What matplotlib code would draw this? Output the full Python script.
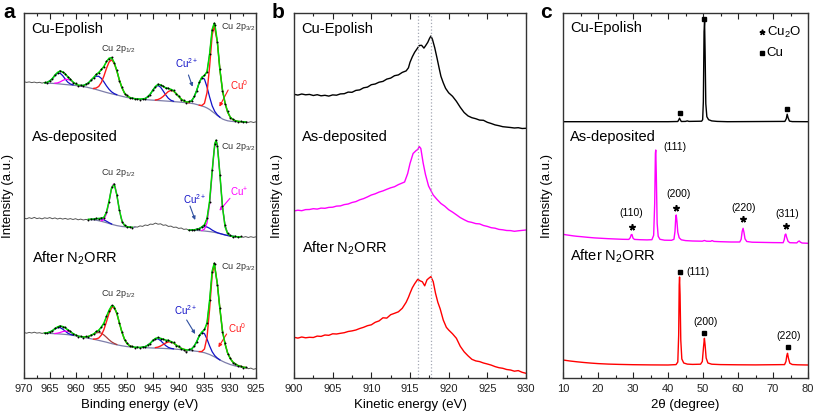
import numpy as np
import matplotlib
matplotlib.use('Agg')
import matplotlib.pyplot as plt
from matplotlib.ticker import MultipleLocator

plt.rcParams['font.family'] = ['Liberation Sans', 'DejaVu Sans']
plt.rcParams['mathtext.fontset'] = 'custom'
plt.rcParams['mathtext.rm'] = 'Liberation Sans'
plt.rcParams['mathtext.it'] = 'Liberation Sans:italic'
plt.rcParams['mathtext.bf'] = 'Liberation Sans:bold'

# ---------------- panel a : Cu 2p XPS (binding energy eV, intensity a.u.) ----------------
# Cu-Epolish
a1_raw = [(970, 40.3), (969.5, 39.6), (969, 40.1), (968.5, 39.4), (968, 39.9), (967.5, 39.2), (967, 39.7),
          (966.5, 38.9), (966, 39.6), (965.5, 39.3), (965, 41.5), (964.5, 43.0), (964, 47.3), (963.5, 49.0),
          (963, 51.5), (962.5, 49.6), (962, 48.5), (961.5, 44.7), (961, 43.1), (960.5, 39.5), (960, 38.6),
          (959.5, 36.3), (959, 37.0), (958.5, 36.0), (958, 38.1), (957.5, 38.7), (957, 42.3), (956.5, 44.0),
          (956, 47.9), (955.5, 49.0), (955, 52.8), (954.5, 55.1), (954, 60.9), (953.5, 63.2), (953, 64.8),
          (952.5, 59.0), (952, 52.0), (951.5, 41.4), (951, 34.8), (950.5, 28.4), (950, 26.6), (949.5, 24.0),
          (949, 24.3), (948.5, 23.0), (948, 23.5), (947.5, 22.4), (947, 23.4), (946.5, 23.0), (946, 25.6),
          (945.5, 27.4), (945, 32.4), (944.5, 35.0), (944, 38.1), (943.5, 36.6), (943, 36.1), (942.5, 33.6),
          (942, 34.0), (941.5, 32.1), (941, 31.8), (940.5, 27.9), (940, 26.2), (939.5, 22.3), (939, 21.6),
          (938.5, 19.4), (938, 20.6), (937.5, 20.6), (937, 25.6), (936.5, 31.0), (936, 40.1), (935.5, 44.3),
          (935, 47.0), (934.5, 49.8), (934, 68.5), (933.5, 92.0), (933.1, 98.6), (933, 97.5), (932.5, 80.0),
          (932, 53.3), (931.5, 31.5), (931, 18.2), (930.5, 10.6), (930, 4.5), (929.5, 2.9), (929, 0.9),
          (928.5, 0.5), (928, 0.6), (927.5, -0.2), (927, 0.5), (926.5, -0.4), (926, 0.3), (925.5, -0.5), (925, 0.2)]
a1_bg = [(966, 39.0), (964, 38.5), (962, 37.5), (960, 36.5), (958, 35.0), (957, 33.8), (956, 32.5), (955, 31.0),
         (954, 29.5), (953, 28.2), (952, 27.0), (951, 25.7), (950, 24.5), (948, 23.0), (946, 22.2), (944, 21.5),
         (942, 20.8), (940, 20.0), (938, 19.0), (937, 18.2), (936, 16.8), (935, 15.2), (934.5, 14.0), (934, 12.5),
         (933.5, 10.5), (933, 8.6), (932.5, 6.5), (932, 4.7), (931.5, 3.0), (931, 2.0), (930.5, 1.2), (930, 0.8),
         (929, 0.3), (928, 0.2), (927, 0.0)]
a1_env = [(966, 39.2), (965.5, 39.7), (965, 41.0), (964.5, 43.4), (964, 46.8), (963.5, 49.6), (963, 50.9),
          (962.5, 50.1), (962, 48.0), (961.5, 45.3), (961, 42.6), (960.5, 40.1), (960, 38.0), (959.5, 36.9),
          (959, 36.5), (958.5, 36.6), (958, 37.5), (957.5, 39.2), (957, 41.7), (956.5, 44.6), (956, 47.3),
          (955.5, 49.6), (955, 52.1), (954.5, 55.7), (954, 60.2), (953.5, 63.8), (953, 64.1), (952.5, 59.5),
          (952, 51.4), (951.5, 42.0), (951, 34.2), (950.5, 29.0), (950, 26.0), (949.5, 24.6), (949, 23.7),
          (948, 23.0), (947, 23.0), (946.5, 23.5), (946, 25.1), (945.5, 28.0), (945, 31.8), (944.5, 35.6),
          (944, 37.5), (943.5, 37.2), (943, 35.5), (942.5, 34.2), (942, 33.4), (941.5, 32.7), (941, 31.2),
          (940.5, 28.5), (940, 25.6), (939.5, 22.9), (939, 21.0), (938.5, 20.0), (938, 20.0), (937.5, 21.2),
          (937, 25.0), (936.5, 31.6), (936, 39.5), (935.5, 44.9), (935, 46.4), (934.5, 50.4), (934, 67.9),
          (933.5, 92.6), (933.1, 98.8), (933, 98.2), (932.5, 80.6), (932, 52.1), (931.5, 32.0), (931, 19.0),
          (930.5, 10.0), (930, 5.0), (929.5, 2.5), (929, 1.3), (928.5, 0.7), (928, 0.4), (927.5, 0.2), (927, 0.0)]
a1_blue = [
    [(965.5, 39.7), (965, 41.0), (964.5, 43.3), (964, 46.5), (963.5, 48.7), (963, 48.8), (962.5, 46.4),
     (962, 42.9), (961.5, 39.8), (961, 38.0), (960.5, 37.1)],
    [(959, 36.3), (958.5, 36.6), (958, 37.5), (957.5, 39.2), (957, 41.6), (956.5, 44.1), (956, 45.8),
     (955.5, 45.7), (955, 43.6), (954.5, 40.1), (954, 36.1), (953.5, 32.7), (953, 30.1), (952.5, 28.4), (952, 27.3)],
    [(947, 23.0), (946.5, 23.5), (946, 25.1), (945.5, 28.0), (945, 31.7), (944.5, 35.2), (944, 36.5),
     (943.5, 34.8), (943, 31.0), (942.5, 27.0), (942, 23.7), (941.5, 21.7), (941, 20.8)],
    [(938, 19.8), (937.5, 21.2), (937, 25.0), (936.5, 31.6), (936, 39.5), (935.5, 44.4), (935, 42.9),
     (934.5, 35.0), (934, 25.0), (933.5, 16.2), (933, 10.6), (932.5, 7.1), (932, 4.8)]]
a1_red = [
    [(956.5, 33.6), (956, 34.0), (955.5, 35.6), (955, 39.5), (954.5, 45.9), (954, 53.6), (953.5, 60.0),
     (953, 62.2), (952.5, 58.7), (952, 51.1), (951.5, 42.0), (951, 34.2), (950.5, 29.0), (950, 26.0), (949.5, 24.6)],
    [(944.5, 22.0), (944, 22.5), (943.5, 23.7), (943, 25.6), (942.5, 28.2), (942, 30.5), (941.5, 31.6),
     (941, 30.8), (940.5, 28.5), (940, 25.6), (939.5, 23.0), (939, 21.0), (938.5, 19.9), (938, 19.2)],
    [(936, 16.8), (935.5, 16.5), (935, 18.7), (934.5, 29.4), (934, 55.4), (933.5, 86.9), (933.1, 96.2),
     (932.5, 80.0), (932, 52.0), (931.5, 31.8), (931, 18.8), (930.5, 9.8), (930, 4.8), (929.5, 2.4),
     (929, 1.2), (928.5, 0.6), (928, 0.3)]]
a1_pink = [
    [(964, 38.8), (963.5, 39.1), (963, 40.1), (962.5, 41.5), (962, 42.6), (961.5, 42.7), (961, 41.6),
     (960.5, 39.8), (960, 38.0), (959.5, 36.7), (959, 36.0)]]

# As-deposited
a2_raw = [(970, 18.9), (969.5, 18.2), (969, 19.3), (968.5, 18.5), (968, 19.6), (967.5, 18.4), (967, 19.0),
          (966.5, 18.1), (966, 19.2), (965.5, 18.6), (965, 19.4), (964.5, 18.3), (964, 19.1), (963.5, 18.0),
          (963, 18.8), (962.5, 17.9), (962, 18.6), (961.5, 17.7), (961, 18.4), (960.5, 17.5), (960, 18.3),
          (959.5, 17.2), (959, 17.9), (958.5, 17.0), (958, 17.6), (957.5, 17.1), (957, 18.2), (956.5, 17.6),
          (956, 18.9), (955.5, 18.1), (955, 19.3), (954.5, 19.2), (954, 25.3), (953.5, 35.4), (953, 49.8),
          (952.5, 53.3), (952, 41.8), (951.5, 27.5), (951, 15.4), (950.5, 12.1), (950, 9.7), (949.5, 10.4),
          (949, 9.3), (948.5, 10.2), (948, 9.9), (947.5, 11.1), (947, 10.6), (946.5, 12.0), (946, 11.5),
          (945.5, 12.9), (945, 12.6), (944.5, 13.9), (944, 12.8), (943.5, 13.2), (943, 11.7), (942.5, 12.1),
          (942, 10.6), (941.5, 10.9), (941, 9.6), (940.5, 9.9), (940, 8.6), (939.5, 9.0), (939, 7.6),
          (938.5, 8.0), (938, 6.7), (937.5, 7.4), (937, 6.8), (936.5, 8.1), (936, 8.2), (935.5, 10.4),
          (935, 11.8), (934.5, 18.9), (934, 35.4), (933.5, 66.7), (933, 92.6), (932.75, 97.0), (932.5, 91.5),
          (932, 62.2), (931.5, 30.6), (931, 12.5), (930.5, 4.0), (930, 1.8), (929.5, -0.2), (929, 0.9),
          (928.5, -0.4), (928, 0.6), (927.5, -0.3), (927, 0.4), (926.5, -0.5), (926, 0.3), (925.5, -0.4), (925, 0.2)]
a2_bg = [(957.5, 17.6), (957, 17.4), (956, 16.8), (955, 15.7), (954, 14.3), (953, 12.7), (952, 11.4),
         (951, 10.5), (950, 10.0), (949, 9.7), (948.5, 9.6)]
a2_bg2 = [(938, 7.0), (937, 6.8), (936, 6.4), (935, 6.0), (934, 5.4), (933.5, 5.0), (933, 4.6), (932.5, 4.0),
          (932, 3.4), (931.5, 2.7), (931, 2.0), (930.5, 1.4), (930, 1.0), (929, 0.4), (928, 0.0)]
a2_env = [(957.5, 17.7), (957, 17.7), (956.5, 17.9), (956, 18.3), (955.5, 18.5), (955, 18.7), (954.5, 19.7),
          (954, 24.7), (953.5, 36.0), (953, 49.2), (952.5, 52.7), (952, 42.4), (951.5, 26.9), (951, 16.0),
          (950.5, 11.5), (950, 10.3), (949.5, 9.8), (949, 9.7)]
a2_env2 = [(938, 7.0), (937.5, 7.0), (937, 7.2), (936.5, 7.6), (936, 8.5), (935.5, 10.0), (935, 12.2),
           (934.5, 18.4), (934, 35.9), (933.5, 66.1), (933, 93.2), (932.75, 96.6), (932.5, 92.0), (932, 62.7),
           (931.5, 29.9), (931, 10.4), (930.5, 3.2), (930, 1.3), (929.5, 0.6), (929, 0.4), (928.5, 0.2), (928, 0.0)]
a2_blue = [
    [(957, 17.5), (956.5, 17.7), (956, 18.3), (955.5, 18.5), (955, 18.2), (954.5, 17.2), (954, 15.8),
     (953.5, 14.3), (953, 13.0)],
    [(937.5, 7.0), (937, 7.2), (936.5, 7.6), (936, 8.5), (935.5, 9.7), (935, 10.4), (934.5, 10.0),
     (934, 8.7), (933.5, 6.9), (933, 5.5), (932.5, 4.3), (932, 3.5), (931, 2.1), (930, 1.0), (929, 0.4)]]
a2_pink = [
    [(955, 16.2), (954.5, 17.5), (954, 23.2), (953.6, 32.5), (953.2, 44.0), (952.9, 50.6), (952.6, 53.1),
     (952.3, 49.9), (952, 42.4), (951.6, 29.8), (951.2, 19.6), (950.7, 12.8), (950.2, 10.6)],
    [(935.5, 6.5), (935, 7.8), (934.5, 14.1), (934, 32.6), (933.6, 57.3), (933.2, 83.2), (932.9, 94.5),
     (932.75, 96.1), (932.6, 94.2), (932.3, 82.2), (931.9, 55.3), (931.5, 29.9), (931, 10.4), (930.5, 3.2),
     (930, 1.3)]]

# After N2ORR
a3_raw = [(970, 36.5), (969.5, 35.8), (969, 36.6), (968.5, 36.0), (968, 36.8), (967.5, 35.9), (967, 36.3),
          (966.5, 35.6), (966, 36.2), (965.5, 35.8), (965, 37.4), (964.5, 38.0), (964, 40.9), (963.5, 41.6),
          (963, 43.4), (962.5, 42.0), (962, 41.8), (961.5, 38.6), (961, 37.9), (960.5, 35.0), (960, 34.4),
          (959.5, 32.5), (959, 32.9), (958.5, 31.5), (958, 32.6), (957.5, 32.1), (957, 34.2), (956.5, 34.6),
          (956, 37.6), (955.5, 38.4), (955, 42.3), (954.5, 45.4), (954, 52.9), (953.5, 58.2), (953, 63.7),
          (952.5, 61.5), (952, 56.3), (951.5, 45.6), (951, 37.2), (950.5, 29.1), (950, 25.9), (949.5, 22.7),
          (949, 22.8), (948.5, 21.3), (948, 22.1), (947.5, 21.1), (947, 22.3), (946.5, 21.9), (946, 24.3),
          (945.5, 25.2), (945, 29.1), (944.5, 30.0), (944, 31.8), (943.5, 30.1), (943, 30.3), (942.5, 28.3),
          (942, 29.0), (941.5, 26.9), (941, 26.7), (940.5, 23.4), (940, 22.8), (939.5, 20.1), (939, 19.2),
          (938.5, 17.0), (938, 19.6), (937.5, 19.5), (937, 23.3), (936.5, 26.8), (936, 33.7), (935.5, 36.5),
          (935, 39.7), (934.5, 45.6), (934, 69.0), (933.5, 97.4), (933.1, 106.0), (933, 104.8), (932.5, 84.5),
          (932, 60.6), (931.5, 37.4), (931, 25.6), (930.5, 15.4), (930, 11.1), (929.5, 6.4), (929, 5.5),
          (928.5, 2.9), (928, 3.1), (927.5, 1.3), (927, 1.9), (926.5, 0.3), (926, 0.9), (925.5, -0.3), (925, 0.4)]
a3_bg = [(966, 35.8), (965, 35.6), (964, 35.3), (963, 35.0), (962, 34.6), (961, 34.0), (960, 33.2), (959, 32.2),
         (958, 31.2), (957, 30.2), (956, 29.2), (955, 28.0), (954, 26.8), (953, 25.4), (952, 24.2), (951, 23.2),
         (950, 22.4), (949, 21.9), (948, 21.6), (947, 21.4), (946, 21.2), (945, 21.0), (944, 20.8), (943, 20.6),
         (942, 20.3), (941, 20.0), (940, 19.6), (939, 19.1), (938, 18.5), (937, 18.0), (936, 17.4), (935, 16.3),
         (934, 14.5), (933, 12.0), (932, 9.0), (931, 6.5), (930, 4.5), (929, 3.0), (928, 2.0), (927, 1.2)]
a3_env = [(966, 35.9), (965.5, 36.2), (965, 36.9), (964.5, 38.3), (964, 40.2), (963.5, 42.1), (963, 42.9),
          (962.5, 42.5), (962, 41.1), (961.5, 39.2), (961, 37.3), (960.5, 35.5), (960, 34.0), (959.5, 33.0),
          (959, 32.3), (958.5, 32.1), (958, 32.1), (957.5, 32.6), (957, 33.6), (956.5, 35.1), (956, 37.0),
          (955.5, 38.9), (955, 41.7), (954.5, 46.0), (954, 52.3), (953.5, 58.8), (953, 63.0), (952.7, 63.1),
          (952.5, 62.1), (952, 55.8), (951.5, 46.2), (951, 36.7), (950.5, 29.7), (950, 25.4), (949.5, 23.2),
          (949, 22.2), (948.5, 21.8), (948, 21.6), (947.5, 21.6), (947, 21.8), (946.5, 22.4), (946, 23.7),
          (945.5, 25.8), (945, 28.5), (944.5, 30.6), (944, 31.2), (943.5, 30.7), (943, 29.7), (942.5, 28.9),
          (942, 28.4), (941.5, 27.5), (941, 26.1), (940.5, 24.0), (940, 22.2), (939.5, 20.7), (939, 19.7),
          (938.5, 19.1), (938, 19.1), (937.5, 20.1), (937, 22.7), (936.5, 27.4), (936, 33.1), (935.5, 37.1),
          (935, 39.1), (934.5, 46.2), (934, 68.4), (933.5, 98.0), (933.1, 105.6), (932.5, 85.4), (932, 60.1),
          (931.5, 38.0), (931, 25.0), (930.5, 16.0), (930, 10.5), (929.5, 7.0), (929, 5.0), (928.5, 3.5),
          (928, 2.6), (927.5, 1.9), (927, 1.4)]
a3_blue = [
    [(965.5, 36.2), (965, 36.9), (964.5, 38.25), (964, 40.0), (963.5, 41.35), (963, 41.4), (962.5, 39.9),
     (962, 37.8), (961.5, 35.8), (961, 34.6), (960.5, 33.8)],
    [(947, 21.8), (946.5, 22.4), (946, 23.7), (945.5, 25.8), (945, 28.3), (944.5, 30.1), (944, 30.1),
     (943.5, 28.4), (943, 25.8), (942.5, 23.35), (942, 21.6), (941.5, 20.65), (941, 20.2)],
    [(938, 19.0), (937.5, 20.05), (937, 22.7), (936.5, 27.4), (936, 33.1), (935.5, 36.45), (935, 35.4),
     (934.5, 29.9), (934, 23.1), (933.5, 17.25), (933, 13.4), (932.5, 10.9), (932, 9.1)]]
a3_red = [
    [(956.5, 29.9), (956, 30.1), (955.5, 31.0), (955, 33.9), (954.5, 39.4), (954, 47.4), (953.5, 55.7),
     (953, 61.3), (952.7, 62.0), (952.5, 61.3), (952, 55.5), (951.5, 46.2), (951, 36.7), (950.5, 29.7),
     (950, 25.4), (949.5, 23.15), (949, 22.2)],
    [(944.5, 21.4), (944, 21.9), (943.5, 23.0), (943, 24.5), (942.5, 26.05), (942, 27.1), (941.5, 27.05),
     (941, 25.9), (940.5, 24.0), (940, 22.2), (939.5, 20.65), (939, 19.7), (938.5, 19.0)],
    [(936, 17.4), (935.5, 17.5), (935, 20.0), (934.5, 31.7), (934, 59.8), (933.5, 93.9), (933.1, 104.5),
     (932.5, 85.0), (932, 60.0), (931.5, 38.0), (931, 25.0), (930.5, 16.0), (930, 10.5), (929.5, 7.0),
     (929, 5.0), (928.5, 3.5), (928, 2.6), (927.5, 1.9), (927, 1.4)]]
a3_pink = [
    [(964, 35.5), (963.5, 35.85), (963, 36.5), (962.5, 37.4), (962, 37.9), (961.5, 37.7), (961, 36.7),
     (960.5, 35.3), (960, 34.0), (959.5, 33.0)]]
a3_brown = [
    [(958.5, 32.1), (958, 32.1), (957.5, 32.6), (957, 33.6), (956.5, 34.9), (956, 36.1), (955.5, 36.5),
     (955, 35.8), (954.5, 34.0), (954, 31.7), (953.5, 29.2), (953, 27.1), (952.5, 25.6), (952, 24.5)]]

a_offsets = [256, 141, 9]

# ---------------- panel b : Cu LMM Auger (kinetic energy eV) ----------------
b_epolish = [(900, 34.0), (900.5, 33.2), (901, 34.3), (901.5, 33.5), (902, 33.9), (902.5, 32.8), (903, 33.6),
             (903.5, 32.5), (904, 33.0), (904.5, 32.2), (905, 33.4), (905.5, 33.1), (906, 34.4), (906.5, 34.6),
             (907, 36.2), (907.5, 36.0), (908, 37.9), (908.5, 38.4), (909, 40.5), (909.5, 41.2), (910, 43.6),
             (910.5, 44.3), (911, 46.1), (911.5, 46.9), (912, 49.2), (912.5, 50.2), (913, 52.6), (913.5, 53.4),
             (914, 55.9), (914.5, 57.4), (914.8, 60.5), (915, 66.0), (915.3, 71.5), (915.6, 76.0), (916, 80.5),
             (916.2, 82.8), (916.5, 83.0), (916.8, 80.2), (917.0, 82.4), (917.3, 86.0), (917.5, 89.5),
             (917.7, 92.3), (917.9, 89.0), (918.2, 80.5), (918.5, 70.0), (918.8, 59.0), (919, 52.0),
             (919.3, 45.5), (919.6, 40.0), (920, 35.5), (920.5, 32.0), (921, 27.0), (921.5, 21.0), (922, 15.8),
             (922.5, 12.4), (923, 10.6), (923.5, 9.6), (924, 8.2), (924.5, 8.0), (925, 6.0), (925.5, 4.8),
             (926, 3.4), (926.5, 2.6), (927, 1.6), (927.5, 1.2), (928, 0.8), (928.5, 0.3), (929, 0.6),
             (929.5, -0.2), (930, 0.0)]
b_asdep = [(900, 20.0), (900.5, 20.8), (901, 20.3), (901.5, 21.4), (902, 21.5), (902.5, 22.3), (903, 21.9),
           (903.5, 22.9), (904, 22.7), (904.5, 23.6), (905, 23.8), (905.5, 24.9), (906, 25.1), (906.5, 26.4),
           (907, 27.0), (907.5, 28.5), (908, 29.4), (908.5, 31.2), (909, 32.4), (909.5, 34.1), (910, 36.0),
           (910.5, 37.2), (911, 38.9), (911.5, 40.1), (912, 41.7), (912.5, 43.2), (913, 44.3), (913.5, 46.4),
           (914, 48.0), (914.3, 49.0), (914.7, 57.5), (915, 67.5), (915.4, 77.5), (915.8, 80.5), (916.0, 81.5),
           (916.2, 84.5), (916.4, 82.5), (916.7, 68.0), (917.0, 56.5), (917.4, 45.0), (917.7, 40.5), (918, 36.0),
           (918.5, 31.5), (919, 27.5), (919.5, 24.8), (920, 21.3), (920.5, 18.9), (921, 16.2), (921.5, 13.4),
           (922, 11.3), (922.5, 9.4), (923, 8.6), (923.5, 7.4), (924, 7.1), (924.5, 5.5), (925, 4.6),
           (925.5, 3.3), (926, 2.8), (926.5, 1.6), (927, 1.2), (927.5, 0.5), (928, 0.4), (928.5, -0.3),
           (929, 0.2), (929.5, 0.6), (930, 1.0)]
b_after = [(900, 36.0), (900.5, 35.2), (901, 36.3), (901.5, 35.5), (902, 36.0), (902.5, 35.8), (903, 37.2),
           (903.5, 36.9), (904, 38.3), (904.5, 38.0), (905, 39.5), (905.5, 39.3), (906, 40.0), (906.5, 40.6),
           (907, 41.8), (907.5, 42.4), (908, 43.3), (908.5, 44.8), (909, 46.0), (909.5, 47.6), (910, 48.5),
           (910.5, 51.0), (911, 52.4), (911.5, 55.5), (912, 55.2), (912.5, 58.6), (913, 60.0), (913.5, 61.5),
           (914, 65.0), (914.5, 71.0), (914.8, 76.0), (915, 80.0), (915.3, 85.5), (915.6, 89.5), (916, 94.0),
           (916.3, 92.5), (916.6, 91.5), (916.9, 87.5), (917.2, 93.5), (917.5, 95.5), (917.7, 96.7),
           (918, 91.7), (918.3, 80.0), (918.6, 71.0), (918.9, 64.5), (919.3, 53.3), (919.7, 46.0), (920, 43.3),
           (920.5, 39.5), (921, 35.0), (921.5, 27.0), (922, 21.5), (922.5, 17.5), (923, 14.0), (923.5, 12.4),
           (924, 11.7), (924.5, 10.3), (925, 9.3), (925.5, 8.2), (926, 6.7), (926.5, 5.6), (927, 5.0),
           (927.5, 3.8), (928, 3.3), (928.5, 2.1), (929, 2.7), (929.5, 1.0), (930, 0.0)]
b_offsets = [249.7, 147, 4.7]
b_ref_lines = [916.0, 917.7]

# ---------------- panel c : XRD (2theta deg) ----------------
c_epolish = [(10, 0), (40, 0), (42.8, 0.2), (43.1, 2.0), (43.3, 3.5), (43.5, 2.0), (43.8, 0.2), (45, 0.3),
             (45.5, 0.8), (46, 0.3), (49.6, 0.5), (49.9, 2.0), (50.1, 20), (50.3, 90), (50.45, 100), (50.6, 70),
             (50.8, 18), (51.1, 5), (51.6, 2.0), (52.5, 0.8), (54, 0.3), (57, 0), (73.4, 0.3), (73.8, 3.0),
             (74.05, 7.5), (74.3, 4.0), (74.7, 0.6), (75.5, 0.1), (80, 0)]
c_asdep = [(10, 9.0), (11, 8.4), (12, 7.9), (13, 7.4), (14, 7.0), (15, 6.7), (17, 6.0), (19, 5.4), (21, 5.0),
           (23, 4.6), (25, 4.3), (27, 4.0), (28.8, 3.9), (29.2, 5.5), (29.5, 8.6), (29.7, 8.8), (30.0, 5.2),
           (30.4, 3.9), (32, 3.6), (34, 3.4), (35.4, 3.6), (35.9, 8), (36.2, 40), (36.4, 90), (36.5, 93.3),
           (36.65, 70), (36.9, 20), (37.2, 7), (37.7, 4), (39, 3.1), (41, 3.0), (41.7, 4), (42.0, 12),
           (42.2, 25), (42.35, 28.3), (42.55, 22), (42.8, 11), (43.2, 5.5), (43.8, 3.5), (45, 2.7), (47, 2.3),
           (49.8, 2.1), (50.4, 2.8), (51, 2.1), (52.2, 2.0), (52.6, 2.7), (53.1, 1.9), (55, 1.6), (58, 1.3),
           (60.5, 1.3), (60.9, 4), (61.2, 12), (61.45, 15), (61.7, 11), (62.0, 4.5), (62.5, 1.8), (64, 1.1),
           (67, 0.9), (70, 0.7), (72.9, 0.6), (73.2, 3.5), (73.45, 8.5), (73.65, 9.3), (73.9, 6), (74.3, 2),
           (74.8, 0.6), (76.8, 0.4), (77.2, 1.8), (77.5, 2.3), (77.8, 1.2), (78.3, 0.3), (80, 0)]
c_after = [(10, 5.0), (12, 4.0), (14, 3.2), (16, 2.5), (18, 1.9), (20, 1.4), (23, 0.9), (26, 0.6), (30, 0.3),
           (35, 0.1), (40, 0.0), (42.3, 0.4), (42.8, 3), (43.05, 30), (43.2, 80), (43.3, 88), (43.45, 70),
           (43.65, 25), (43.95, 6), (44.5, 2), (45.5, 0.9), (47, 0.6), (49.3, 0.8), (49.8, 3.5), (50.15, 18),
           (50.4, 26.7), (50.6, 20), (50.9, 7), (51.4, 2), (52.5, 0.8), (55, 0.4), (60, 0.2), (65, 0.1),
           (73.3, 0.4), (73.7, 3.5), (73.95, 9.5), (74.15, 11.7), (74.4, 7), (74.8, 1.8), (75.5, 0.5),
           (77, 0.2), (80, 0)]
c_offsets = [256.3, 134.7, 13]

# reflection markers: (2theta, height on plot)
cu_marks_top = [(43.3, 264.7), (50.4, 359), (74.1, 269)]
cu2o_marks_mid = [(29.6, 151.3), (42.3, 170.3), (61.4, 158.7), (73.6, 152)]
cu_marks_bot = [(43.3, 106.3), (50.4, 44.7), (74.2, 30.7)]
cu2o_labels = [('(110)', 29.6, 164.7), ('(111)', 42.1, 231.3), ('(200)', 42.9, 183.7),
               ('(220)', 61.5, 169.7), ('(311)', 74.1, 163.7)]
cu_labels = [('(111)', 45.3, 106.3), ('(200)', 50.8, 56.3), ('(220)', 74.4, 42.3)]

sample_names = ['Cu-Epolish', 'As-deposited', 'After N$_2$ORR']

BLUE = '#1212c8'
RED = '#ff1a1a'
PINK = '#ff00ff'
GREEN = '#00dd00'
BGCOL = '#7d7daa'
RAWCOL = '#555555'
BROWN = '#a83a3a'
STAR = (5, 2, 0)


def xy(pts, off=0.0):
    return [p[0] for p in pts], [p[1] + off for p in pts]


def style(ax, xlim, major, minor, xlabel):
    ax.set_xlim(*xlim)
    ax.set_ylim(0, 365)
    ax.xaxis.set_major_locator(MultipleLocator(major))
    ax.xaxis.set_minor_locator(MultipleLocator(minor))
    ax.set_yticks([])
    ax.tick_params(axis='x', which='both', direction='in', top=True, bottom=True,
                   labelsize=8, pad=4, colors='#222222', width=0.8)
    ax.tick_params(axis='x', which='major', length=4)
    ax.tick_params(axis='x', which='minor', length=2)
    for s in ax.spines.values():
        s.set_linewidth(1.0)
        s.set_color('#333333')
    ax.set_xlabel(xlabel, fontsize=9.5, labelpad=4)
    ax.set_ylabel('Intensity (a.u.)', fontsize=9.5)


fig = plt.figure(figsize=(8.17, 4.2), dpi=100)
ax_a = fig.add_axes([24 / 817, 42 / 420, 232 / 817, 365 / 420])
ax_b = fig.add_axes([294 / 817, 42 / 420, 232 / 817, 365 / 420])
ax_c = fig.add_axes([563 / 817, 42 / 420, 245 / 817, 365 / 420])

# ---- panel a ----
spectra_a = [
    (a1_raw, [a1_bg], [a1_env], a1_blue, a1_red, a1_pink, []),
    (a2_raw, [a2_bg, a2_bg2], [a2_env, a2_env2], a2_blue, [], a2_pink, []),
    (a3_raw, [a3_bg], [a3_env], a3_blue, a3_red, a3_pink, a3_brown),
]
for (raw, bgs, envs, blues, reds, pinks, browns), off in zip(spectra_a, a_offsets):
    x, y = xy(raw, off)
    ax_a.plot(x, y, color=RAWCOL, lw=0.7, zorder=1)
    for bg in bgs:
        ax_a.plot(*xy(bg, off), color=BGCOL, lw=0.9, zorder=2)
    for comp in blues:
        ax_a.plot(*xy(comp, off), color=BLUE, lw=0.9, zorder=3)
    for comp in browns:
        ax_a.plot(*xy(comp, off), color=BROWN, lw=0.9, zorder=3)
    for comp in pinks:
        ax_a.plot(*xy(comp, off), color=PINK, lw=0.9, zorder=3)
    for comp in reds:
        ax_a.plot(*xy(comp, off), color=RED, lw=1.0, zorder=4)
    for env in envs:
        ex, ey = xy(env, off)
        ax_a.plot(ex, ey, color=GREEN, lw=1.1, zorder=5)
        lo, hi = min(ex), max(ex)
        dx = [a for a in x if lo <= a <= hi]
        dy = [b for a, b in zip(x, y) if lo <= a <= hi]
        ax_a.plot(dx, dy, ls='none', marker='o', ms=1.4, mew=0, color='black', zorder=6)

style(ax_a, (970, 925), 5, 2.5, 'Binding energy (eV)')
ax_a.yaxis.set_label_coords(-0.045, 0.5)

for name, yy in zip(sample_names, [348.7, 241.3, 119.7]):
    ax_a.text(968.5, yy, name, fontsize=10.5, va='center', ha='left')

small = dict(fontsize=6.5, color='#333333', va='center', ha='left')
for yy in [328.7, 204.7, 83.7]:
    ax_a.text(955.1, yy, 'Cu 2p$_{1/2}$', **small)
for yy in [350.7, 231.3, 110.7]:
    ax_a.text(931.7, yy, 'Cu 2p$_{3/2}$', **small)

arrow_a = [
    ('Cu$^{2+}$', BLUE, (940.7, 315.3), (938.1, 303), (937.3, 291.3), '#3050a0'),
    ('Cu$^{0}$', RED, (930.05, 293), (930.4, 288), (932.1, 271.3), RED),
    ('Cu$^{2+}$', BLUE, (939.2, 178.7), (937.8, 172), (936.8, 158), '#3050a0'),
    ('Cu$^{+}$', PINK, (930.05, 185.3), (930.05, 179.7), (932.1, 167.3), PINK),
    ('Cu$^{2+}$', BLUE, (940.9, 68), (938.45, 58), (936.8, 44), '#3050a0'),
    ('Cu$^{0}$', RED, (930.4, 49.7), (930.7, 44), (932.3, 30.7), RED),
]
for label, col, tpos, start, end, acol in arrow_a:
    ax_a.text(tpos[0], tpos[1], label, fontsize=7, color=col, va='center', ha='left')
    ax_a.annotate('', xy=end, xytext=start,
                  arrowprops=dict(arrowstyle='-|>', color=acol, lw=0.8, mutation_scale=5,
                                  shrinkA=0, shrinkB=0))

# ---- panel b ----
for data, col, off in zip([b_epolish, b_asdep, b_after], ['black', PINK, '#ff0000'], b_offsets):
    ax_b.plot(*xy(data, off), color=col, lw=1.0)
for e in b_ref_lines:
    ax_b.axvline(e, color='#a4a8b4', lw=0.9, ls=':')
style(ax_b, (900, 930), 5, 2.5, 'Kinetic energy (eV)')
ax_b.yaxis.set_label_coords(-0.047, 0.5)
for name, yy in zip(sample_names, [348.7, 241.3, 129.7]):
    ax_b.text(901.0, yy, name, fontsize=10.5, va='center', ha='left')

# ---- panel c ----
for data, col, off in zip([c_epolish, c_asdep, c_after], ['black', PINK, '#ff0000'], c_offsets):
    ax_c.plot(*xy(data, off), color=col, lw=1.0)
for marks in [cu_marks_top, cu_marks_bot]:
    ax_c.plot(*xy(marks), ls='none', marker='s', ms=3.3, color='black')
ax_c.plot(*xy(cu2o_marks_mid), ls='none', marker=STAR, ms=4.5, mew=1.2, color='black')
for lab, x0, y0 in cu2o_labels:
    ax_c.text(x0, y0, lab, fontsize=7.5, ha='center', va='center')
for i, (lab, x0, y0) in enumerate(cu_labels):
    ax_c.text(x0, y0, lab, fontsize=7.5, ha='left' if i == 0 else 'center', va='center')
ax_c.plot([66.9], [346], ls='none', marker=STAR, ms=4, mew=1.1, color='black')
ax_c.plot([66.9], [324.7], ls='none', marker='s', ms=3.3, color='black')
ax_c.text(68.2, 346, 'Cu$_2$O', fontsize=9.5, va='center', ha='left')
ax_c.text(68.2, 324.7, 'Cu', fontsize=9.5, va='center', ha='left')
style(ax_c, (10, 80), 10, 5, '2θ (degree)')
ax_c.yaxis.set_label_coords(-0.041, 0.5)
for name, yy in zip(sample_names, [349.7, 241.3, 121.3]):
    ax_c.text(12.0, yy, name, fontsize=10.5, va='center', ha='left')

for letter, px in [('a', 3), ('b', 272), ('c', 540)]:
    fig.text(px / 817, 1 - 18 / 420, letter, fontsize=15, fontweight='bold', ha='left', va='baseline')

fig.savefig('out.png', dpi=100)
